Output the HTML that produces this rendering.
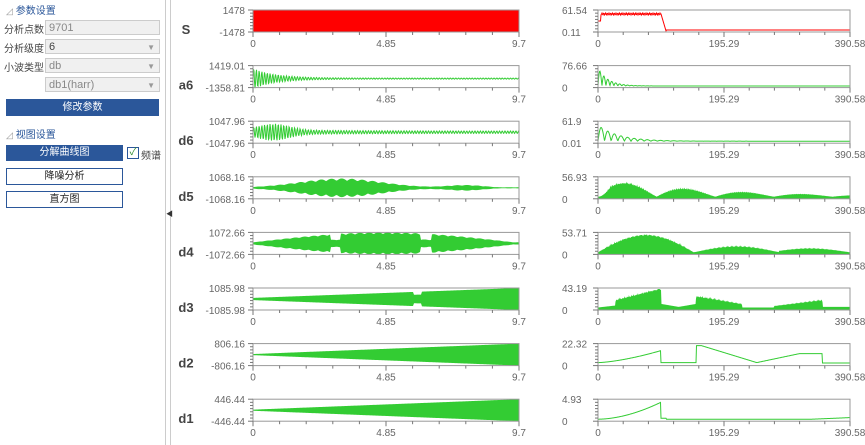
<!DOCTYPE html>
<html><head><meta charset="utf-8"><style>
body{margin:0;width:865px;height:445px;background:#fff;font-family:"Liberation Sans","Noto Sans CJK SC",sans-serif;overflow:hidden;position:relative}
.a{position:absolute;font-size:10px;color:#444;white-space:nowrap}
.in{position:absolute;left:45px;width:113px;height:15px;border:1px solid #ccc;background:#f0f0f0;font-size:11px;color:#888;line-height:15px;padding-left:3px;box-sizing:border-box}
.in i{position:absolute;right:4px;top:0;font-style:normal;font-size:8px;color:#999}
.btn{position:absolute;font-size:11px;text-align:center;box-sizing:border-box}
</style></head><body>
<div class="a" style="left:6px;top:2px;color:#2b579a"><span style="color:#999;font-size:9px">◿</span> 参数设置</div>
<div class="a" style="left:4px;top:21px">分析点数</div><div class="in" style="top:20px;width:115px">9701</div>
<div class="a" style="left:4px;top:40px">分析级度</div><div class="in" style="top:39px;width:115px;color:#444">6<i>▼</i></div>
<div class="a" style="left:4px;top:59px">小波类型</div><div class="in" style="top:58px;width:115px">db<i>▼</i></div>
<div class="in" style="top:77px;width:115px">db1(harr)<i>▼</i></div>
<div class="btn" style="left:6px;top:99px;width:153px;height:17px;background:#2b579a;color:#fff;line-height:17px;font-size:10px">修改参数</div>
<div class="a" style="left:6px;top:126px;color:#2b579a"><span style="color:#999;font-size:9px">◿</span> 视图设置</div>
<div class="btn" style="left:6px;top:145px;width:117px;height:16px;background:#2b579a;color:#fff;line-height:16px;font-size:10px">分解曲线图</div>
<div style="position:absolute;left:127px;top:147px;width:10px;height:10px;border:1px solid #2b579a;background:#fff;font-size:10px;line-height:10px;color:#2a8a2a;text-align:center">✓</div>
<div class="a" style="left:141px;top:147px">频谱</div>
<div class="btn" style="left:6px;top:168px;width:117px;height:17px;border:1px solid #2b579a;line-height:15px;color:#222;font-size:10px">降噪分析</div>
<div class="btn" style="left:6px;top:191px;width:117px;height:17px;border:1px solid #2b579a;line-height:15px;color:#222;font-size:10px">直方图</div>
<div style="position:absolute;left:165px;top:0;width:1px;height:445px;background:#ccc"></div>
<div style="position:absolute;left:170px;top:0;width:1px;height:445px;background:#ccc"></div>
<div style="position:absolute;left:166px;top:209px;font-size:7px;color:#333">◀</div>
<svg id="s" width="865" height="445" style="position:absolute;left:0;top:0" font-family="Liberation Sans, sans-serif" font-size="10" fill="#666"></svg>
<script>
var s=document.getElementById('s'),h='';
var names=['S','a6','d6','d5','d4','d3','d2','d1'];
var lt=[['1478','-1478'],['1419.01','-1358.81'],['1047.96','-1047.96'],['1068.16','-1068.16'],['1072.66','-1072.66'],['1085.98','-1085.98'],['806.16','-806.16'],['446.44','-446.44']];
var rt=['61.54','0.11','76.66','0','61.9','0.01','56.93','0','53.71','0','43.19','0','22.32','0','4.93','0'];
function env(i,t){
 if(i==0)return 1;
 if(i==3){var e=Math.max(0.05,0.85*Math.exp(-Math.pow((t-0.33)/0.22,2))+0.25*Math.exp(-Math.pow((t-0.8)/0.1,2)));return e*(0.75+0.25*Math.abs(Math.sin(t*80)))}
 if(i==4){var e=0.1+0.9*Math.sin(Math.PI*Math.min(1,t*1.02));if(Math.abs(t-0.31)<0.02||Math.abs(t-0.65)<0.02)e*=0.4;return e*(0.85+0.15*Math.abs(Math.sin(t*90)))}
 if(i==5){var e=0.1+0.9*t;if(Math.abs(t-0.62)<0.015)e*=0.6;return e}
 return 0.05+0.95*t;
}
for(var i=0;i<8;i++){
 var y=10+55.6*i,H=22,c=y+H/2,col=i==0?'#ff0000':'#33cc33';
 h+='<text x="186" y="'+(y+H+2)+'" font-size="13" font-weight="bold" fill="#444" text-anchor="middle">'+names[i]+'</text>';
 h+='<text x="245" y="'+(y+4)+'" text-anchor="end">'+lt[i][0]+'</text><text x="245" y="'+(y+H+4)+'" text-anchor="end">'+lt[i][1]+'</text>';
 h+='<text x="562" y="'+(y+4)+'">'+rt[2*i]+'</text><text x="562" y="'+(y+H+4)+'">'+rt[2*i+1]+'</text>';
 var L=253,W=266,p='';
 if(i==1||i==2){
  for(var x=0;x<=W;x+=0.5){var t=x/W,a=(i==1?Math.exp(-t*12)*0.9+0.05:0.1+0.55*Math.exp(-Math.pow((t-0.08)/0.08,2))+0.15*Math.exp(-t*3));p+=(L+x)+','+(c+(i==1?2:0)-a*H/2*Math.sin(x*2.3))+' ';}
  h+='<polyline points="'+p+'" fill="none" stroke="'+col+'" stroke-width="1"/>';
 }else{
  var up='',dn='';
  for(var x=0;x<=W;x+=1){var e=env(i,x/W)*H/2;up+=(L+x)+','+(c-e)+' ';dn=(L+x)+','+(c+e)+' '+dn;}
  h+='<polygon points="'+up+dn+'" fill="'+col+'"/>';
 }
 h+='<rect x="'+L+'" y="'+y+'" width="'+W+'" height="'+H+'" fill="none" stroke="#999"/>';
 axis(L,W,y,H,['0','4.85','9.7']);
 var R=598,RW=252,q='';
 for(var x=0;x<=RW;x+=0.5){var t=x/RW,v=spec(i,t);q+=(R+x)+','+(y+H-1-v*(H-2))+' ';}
 h+='<polyline points="'+R+','+(y+H)+' '+q+(R+RW)+','+(y+H)+'" fill="'+(i>=3&&i<=5?col:'none')+'" stroke="'+col+'" stroke-width="1"/>';
 h+='<rect x="'+R+'" y="'+y+'" width="'+RW+'" height="'+H+'" fill="none" stroke="#999"/>';
 axis(R,RW,y,H,['0','195.29','390.58']);
}
function spec(i,t){
 if(i==0){return t<0.01?0.5:t<0.25?0.85+0.05*Math.sin(t*900):t<0.27?0.85*(0.27-t)/0.02:0.05}
 if(i==1){return 0.03+0.9*Math.exp(-t*25)*Math.abs(Math.sin(t*200))}
 if(i==2){return 0.05+0.8*Math.exp(-t*12)*Math.abs(Math.sin(t*120))}
 if(i==3){return 0.03+Math.abs(Math.sin(t*Math.PI*4.3))*Math.exp(-t*2.3)*(t<0.05?t/0.05:1)*0.9*(0.7+0.3*Math.abs(Math.sin(t*600)))}
 if(i==4){var v=t<0.38?0.9*Math.sin(t/0.38*Math.PI):t<0.72?0.3*Math.sin((t-0.38)/0.34*Math.PI):0.2*Math.sin((t-0.68)/0.32*Math.PI);return 0.03+Math.max(0,v)*(0.7+0.3*Math.abs(Math.sin(t*700)))}
 if(i==5){var v=t<0.07?0.02+0.1*t/0.07:t<0.25?0.4+0.6*(t-0.07)/0.18:t<0.32?0.2-0.15*(t-0.25)/0.07:t<0.39?0.05+0.15*(t-0.32)/0.07:t<0.57?0.6-0.4*(t-0.39)/0.18:t<0.7?0.02:t<0.89?0.1+0.3*(t-0.7)/0.19:0.05;return 0.03+v*(t>0.07&&t<0.25||t>0.39&&t<0.57||t>0.7&&t<0.89?(0.75+0.25*Math.abs(Math.sin(t*700))):1)}
 if(i==6){return t<0.25?0.1+0.6*Math.pow(t/0.25,1.5):t<0.27?0.1:t<0.39?0.1:t<0.41?0.95:t<0.63?0.95-0.85*(t-0.41)/0.22:t<0.8?0.1+0.45*(t-0.63)/0.17:t<0.89?0.55:0.08}
 if(i==7){return t<0.25?0.05+0.85*Math.pow(t/0.25,1.8):t<0.27?0.1:0.05+0.08*Math.max(0,(t-0.85)/0.15)}
}
function axis(X,W,y,H,lab){
 for(var k=0;k<=10;k++){var x=X+W*k/10;h+='<line x1="'+x+'" y1="'+(y+H)+'" x2="'+x+'" y2="'+(y+H+(k%5==0?5:3))+'" stroke="#777"/>';}
 for(var k=0;k<=7;k++){var yy=y+H*k/7;h+='<line x1="'+(X-(k==0||k==7?5:3))+'" y1="'+yy+'" x2="'+X+'" y2="'+yy+'" stroke="#777"/>';}
 h+='<text x="'+X+'" y="'+(y+H+15)+'" text-anchor="middle">'+lab[0]+'</text><text x="'+(X+W/2)+'" y="'+(y+H+15)+'" text-anchor="middle">'+lab[1]+'</text><text x="'+(X+W)+'" y="'+(y+H+15)+'" text-anchor="middle">'+lab[2]+'</text>';
}
s.innerHTML=h;
</script>
</body></html>
